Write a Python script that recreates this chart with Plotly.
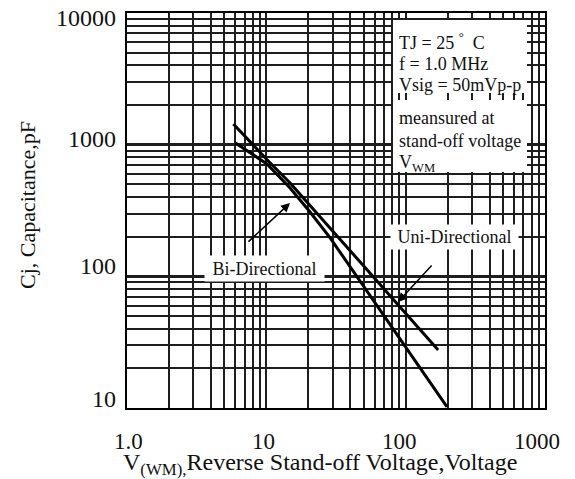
import numpy as np
import plotly.graph_objects as go

# Junction capacitance vs. stand-off voltage (log-log)
uni_voltage = [5.8, 10.0, 14.8, 28.7, 171]
uni_cap = [1436, 778, 512, 233, 27.6]

bi_voltage = [6.0, 8.0, 10.1, 14.8, 20.6, 28.7, 198]
bi_cap = [1030, 835, 714, 469, 308, 196, 10.2]

x_tick_values = [1, 10, 100, 1000]
x_tick_labels = ["1.0", "10", "100", "1000"]
y_tick_values = [10, 100, 1000, 10000]
y_tick_labels = ["10", "100", "1000", "10000"]

conditions = ["TJ = 25 <sup>°</sup>\u00a0\u00a0C", "f = 1.0 MHz", "Vsig = 50mVp-p"]
measure_note = ["meansured at", "stand-off voltage", "V<sub>WM</sub>"]

FONT = "Liberation Serif, Times New Roman, serif"
INK = "#111111"
GRID = "#1e1e1e"

W, H = 575, 479
L, R, T, B = 127, 30, 13, 71
PW, PH = W - L - R, H - T - B


def px(x):
    return (x - L) / PW


def py(y):
    return (T + PH - y) / PH


fig = go.Figure()
fig.add_trace(go.Scatter(x=uni_voltage, y=uni_cap, mode="lines",
                         line=dict(color="black", width=3), name="Uni-Directional",
                         showlegend=False))
fig.add_trace(go.Scatter(x=bi_voltage, y=bi_cap, mode="lines",
                         line=dict(color="black", width=3), name="Bi-Directional",
                         showlegend=False))

x_minor = [m * 10 ** d for d in range(0, 3) for m in range(2, 10)]
y_minor = [m * 10 ** d for d in range(1, 4) for m in range(2, 10)]

fig.update_xaxes(type="log", range=[0, 3], tickmode="array", tickvals=x_tick_values,
                 showticklabels=False, ticks="", showgrid=True, gridcolor=GRID, gridwidth=2,
                 minor=dict(tickmode="array", tickvals=x_minor, showgrid=True,
                            gridcolor=GRID, gridwidth=1.5, ticks=""),
                 showline=True, linecolor="black", linewidth=2, mirror=True, zeroline=False)
fig.update_yaxes(type="log", range=[1, 4], tickmode="array", tickvals=y_tick_values,
                 showticklabels=False, ticks="", showgrid=True, gridcolor=GRID, gridwidth=3,
                 minor=dict(tickmode="array", tickvals=y_minor, showgrid=True,
                            gridcolor=GRID, gridwidth=1.5, ticks=""),
                 showline=True, linecolor="black", linewidth=2, mirror=True, zeroline=False)

annotations = []

# tick labels
y_shifts = [9, 10, 6, -5]
for v, lab, s in zip(y_tick_values, y_tick_labels, y_shifts):
    annotations.append(dict(x=0, xref="paper", y=np.log10(v), yref="y", text=lab,
                            showarrow=False, xanchor="right", yanchor="middle",
                            xshift=-9, yshift=s, font=dict(family=FONT, size=24, color=INK)))
x_shifts = [1, -3, -6, -8]
for v, lab, s in zip(x_tick_values, x_tick_labels, x_shifts):
    annotations.append(dict(x=np.log10(v), xref="x", y=0, yref="paper", text=lab,
                            showarrow=False, xanchor="center", yanchor="middle",
                            xshift=s, yshift=-33, height=19,
                            font=dict(family=FONT, size=23, color=INK)))

# axis titles
annotations.append(dict(x=px(320), y=py(464), xref="paper", yref="paper",
                        text="V<sub>(WM),</sub>Reverse Stand-off Voltage,Voltage",
                        showarrow=False, xanchor="center", yanchor="middle",
                        font=dict(family=FONT, size=24, color=INK)))
annotations.append(dict(x=px(27), y=py(205), xref="paper", yref="paper",
                        text="Cj, Capacitance,pF", textangle=-90,
                        showarrow=False, xanchor="center", yanchor="middle",
                        font=dict(family=FONT, size=22, color=INK)))

# condition notes
for i, t in enumerate(conditions):
    annotations.append(dict(x=px(397), y=py(42 + 21.5 * i), xref="paper", yref="paper",
                            text=t, showarrow=False, xanchor="left", yanchor="middle",
                            font=dict(family=FONT, size=18, color=INK)))
for i, t in enumerate(measure_note):
    annotations.append(dict(x=px(397), y=py(118 + 22.5 * i), xref="paper", yref="paper",
                            text=t, showarrow=False, xanchor="left", yanchor="middle",
                            font=dict(family=FONT, size=18, color=INK)))

# curve labels with arrows
annotations.append(dict(x=px(264), y=py(268), xref="paper", yref="paper",
                        xanchor="center", yanchor="middle",
                        text="Bi-Directional", showarrow=False, bgcolor="white",
                        width=117, height=23, font=dict(family=FONT, size=18, color=INK)))
annotations.append(dict(x=px(454.5), y=py(237), xref="paper", yref="paper",
                        xanchor="center", yanchor="middle",
                        text="Uni-Directional", showarrow=False, bgcolor="white",
                        width=125, height=22, font=dict(family=FONT, size=18, color=INK)))
annotations.append(dict(x=px(290), y=py(203), xref="paper", yref="paper", text="",
                        showarrow=True, ax=-43, ay=40, arrowhead=2, arrowsize=1.2,
                        arrowwidth=1.5, arrowcolor="black"))
annotations.append(dict(x=px(398), y=py(302), xref="paper", yref="paper", text="",
                        showarrow=True, ax=35, ay=-38, arrowhead=2, arrowsize=1.2,
                        arrowwidth=1.5, arrowcolor="black"))

shapes = [
    dict(type="rect", xref="paper", yref="paper", x0=px(393), x1=px(527),
         y0=py(93), y1=py(20), fillcolor="white", line=dict(width=0), layer="above"),
    dict(type="rect", xref="paper", yref="paper", x0=px(393), x1=px(527),
         y0=py(172), y1=py(100), fillcolor="white", line=dict(width=0), layer="above"),
]

fig.update_layout(width=W, height=H, margin=dict(l=L, r=R, t=T, b=B),
                  paper_bgcolor="white", plot_bgcolor="white",
                  annotations=annotations, shapes=shapes, showlegend=False)

fig.write_html("out.html")
